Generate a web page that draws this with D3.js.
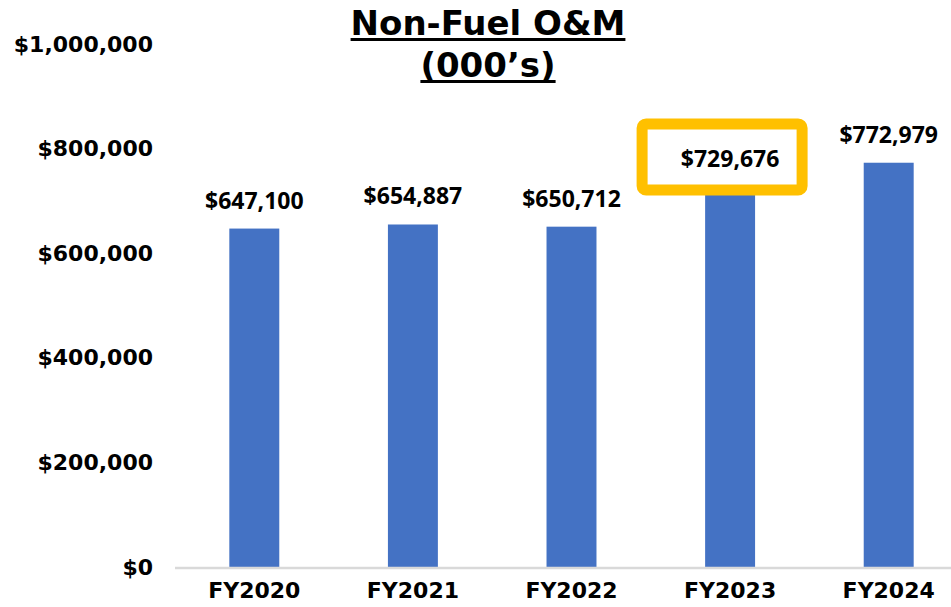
<!DOCTYPE html>
<html>
<head>
<meta charset="utf-8">
<script src="https://cdn.jsdelivr.net/npm/d3@7"></script>
<style>
  body { margin: 0; background: #fff; }
  svg { display: block; }
</style>
</head>
<body>
<svg></svg>
<script>
let width = 951;
let height = 607;

// data
let years = ["FY2020", "FY2021", "FY2022", "FY2023", "FY2024"];
let values = [647100, 654887, 650712, 729676, 772979];
let yTicks = [0, 200000, 400000, 600000, 800000, 1000000];
let highlight = "FY2023";

let svg = d3.select("svg")
            .attr("width", width)
            .attr("height", height);

let xScale = d3.scaleBand()
               .domain(years)
               .range([175, 968])
               .paddingInner(0.685)
               .paddingOuter(0.3425);

let yScale = d3.scaleLinear()
               .domain([0, 1000000])
               .range([567, 44]);

let fmt = d3.format("$,");

// title, underlined by hand so the rule is thick enough
let title = svg.append("g")
  .attr("font-family", "DejaVu Sans")
  .attr("font-weight", "bold")
  .attr("font-size", 34)
  .attr("text-anchor", "middle");

[["Non-Fuel O&M", 35, 39.5], ["(000\u2019s)", 77, 81.5]].forEach((t) => {
  let txt = title.append("text").attr("x", 488).attr("y", t[1]).text(t[0]);
  let w = txt.node().getComputedTextLength();
  title.append("line")
    .attr("x1", 488 - w / 2).attr("x2", 488 + w / 2)
    .attr("y1", t[2]).attr("y2", t[2])
    .attr("stroke", "#000")
    .attr("stroke-width", 3);
});

// y axis labels (no line)
let yAxis = svg.append("g")
  .attr("transform", "translate(153,0)")
  .call(d3.axisLeft(yScale).tickValues(yTicks).tickFormat(fmt).tickSize(0).tickPadding(0));
yAxis.select(".domain").remove();
yAxis.selectAll("text")
  .attr("font-family", "DejaVu Sans")
  .attr("font-weight", "bold")
  .attr("font-size", 22)
  .attr("fill", "#000");

// bars
svg.selectAll("rect.bar")
  .data(years)
  .enter()
  .append("rect")
  .attr("class", "bar")
  .attr("x", (d) => xScale(d))
  .attr("width", xScale.bandwidth())
  .attr("y", (d, i) => yScale(values[i]))
  .attr("height", (d, i) => yScale(0) - yScale(values[i]))
  .attr("fill", "#4472C4");

// baseline
svg.append("line")
  .attr("x1", 175).attr("x2", width)
  .attr("y1", yScale(0) + 1).attr("y2", yScale(0) + 1)
  .attr("stroke", "#d9d9d9")
  .attr("stroke-width", 2.5);

// x axis labels
let xAxis = svg.append("g")
  .attr("transform", "translate(0," + (yScale(0) + 15) + ")")
  .call(d3.axisBottom(xScale).tickSize(0).tickPadding(0));
xAxis.select(".domain").remove();
xAxis.selectAll("text")
  .attr("font-family", "DejaVu Sans")
  .attr("font-weight", "bold")
  .attr("font-size", 22)
  .attr("fill", "#000");

// highlight box
let cx = xScale(highlight) + xScale.bandwidth() / 2;
svg.append("rect")
  .attr("x", cx - 88).attr("y", 124)
  .attr("width", 160).attr("height", 66)
  .attr("rx", 4)
  .attr("fill", "#fff")
  .attr("stroke", "#FFC000")
  .attr("stroke-width", 11);

// data labels
svg.selectAll("text.val")
  .data(years)
  .enter()
  .append("text")
  .attr("class", "val")
  .attr("x", (d) => xScale(d) + xScale.bandwidth() / 2)
  .attr("y", (d, i) => d === highlight ? 167 : yScale(values[i]) - 20)
  .attr("text-anchor", "middle")
  .attr("font-family", "Open Sans")
  .attr("font-weight", "bold")
  .attr("font-size", 23)
  .attr("fill", "#000")
  .text((d, i) => fmt(values[i]));
</script>
</body>
</html>
